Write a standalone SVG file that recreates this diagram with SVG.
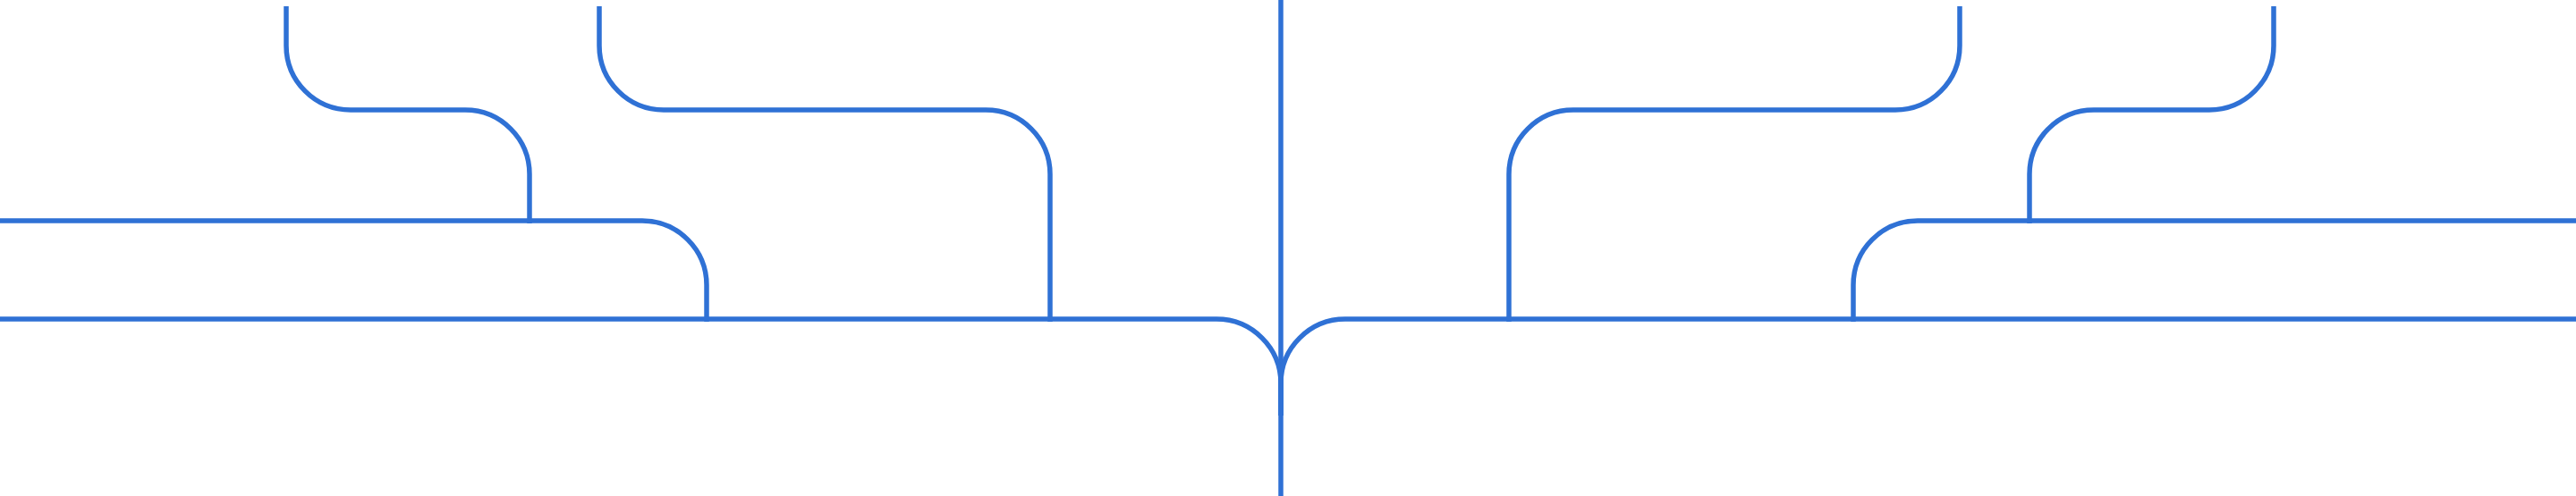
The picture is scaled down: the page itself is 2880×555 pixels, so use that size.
<svg xmlns="http://www.w3.org/2000/svg" width="2880" height="555" viewBox="0 0 2880 555">
  <style>
    .ln { fill: none; stroke: #2F71D5; stroke-width: 5.5; stroke-linecap: butt; stroke-linejoin: round; }
  </style>
  <rect width="2880" height="555" fill="#FFFFFF"/>
  <g id="connectors">
    <path id="trunk" class="ln" d="M 1432 0 V 555"/>
    <path id="left-branch-1" class="ln" d="M 320 7 V 51 A 72 72 0 0 0 392 123 H 520 A 72 72 0 0 1 592 195 V 250"/>
    <path id="left-branch-2" class="ln" d="M 670 7 V 51 A 72 72 0 0 0 742 123 H 1102 A 72 72 0 0 1 1174 195 V 360"/>
    <path id="left-middle" class="ln" d="M 0 247 H 718 A 72 72 0 0 1 790 319 V 360"/>
    <path id="left-bottom" class="ln" d="M 0 357 H 1360 A 72 72 0 0 1 1432 429 V 465"/>
    <path id="right-bottom" class="ln" d="M 1432 465 V 429 A 72 72 0 0 1 1504 357 H 2880"/>
    <path id="right-branch-1" class="ln" d="M 1687 360 V 195 A 72 72 0 0 1 1759 123 H 2119 A 72 72 0 0 0 2191 51 V 7"/>
    <path id="right-middle" class="ln" d="M 2072 360 V 319 A 72 72 0 0 1 2144 247 H 2880"/>
    <path id="right-branch-2" class="ln" d="M 2269 250 V 195 A 72 72 0 0 1 2341 123 H 2470 A 72 72 0 0 0 2542 51 V 7"/>
  </g>
</svg>
